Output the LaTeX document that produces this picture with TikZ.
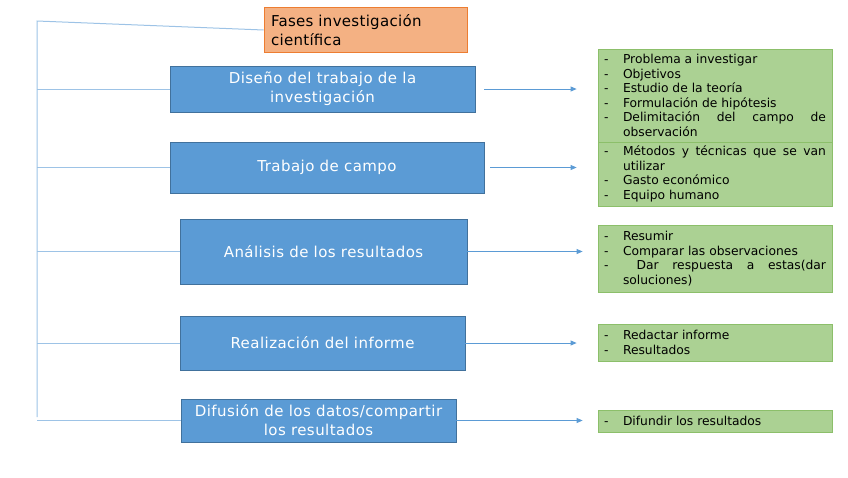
\documentclass[tikz,border=0pt]{standalone}
\usepackage{fontspec}
\setmainfont{DejaVu Sans}
\newfontfamily\faseletra[LetterSpace=3]{DejaVu Sans}
\newfontfamily\tituloletra[LetterSpace=2]{DejaVu Sans}
\usetikzlibrary{arrows.meta}
\definecolor{azul}{HTML}{5B9BD5}
\definecolor{azulborde}{HTML}{41719C}
\definecolor{azulclaro}{HTML}{9DC3E6}
\definecolor{salmon}{HTML}{F4B183}
\definecolor{naranja}{HTML}{ED7D31}
\definecolor{verde}{HTML}{ABD193}
\definecolor{verdeborde}{HTML}{8CBF6A}
% one dash item of a list
\newcommand{\guion}[1]{\hangindent=19pt\hangafter=1\noindent\makebox[19pt][l]{-}#1\par}

\begin{document}
\begin{tikzpicture}[
    x=1pt, y=-1pt,
    >={Triangle[length=6pt,width=5pt]},
    % Styles
    fase/.style={draw=azulborde, line width=0.8pt, fill=azul, text=white,
        font=\faseletra\fontsize{15}{19}\selectfont, align=center},
    titulo/.style={draw=naranja, line width=0.8pt, fill=salmon,
        font=\tituloletra\fontsize{15}{19}\selectfont, align=left, inner sep=7pt,
        text width=189pt, minimum height=44pt},
    lista/.style={draw=verdeborde, line width=0.8pt, fill=verde,
        font=\fontsize{12.3}{14.6}\selectfont, align=justify,
        text width=222pt, inner sep=6pt, inner ysep=0pt},
    rama/.style={azulclaro, line width=1pt},
    flecha/.style={->, azul, line width=0.8pt}
]
\useasboundingbox (0,0) rectangle (848,477);

% --- Title ---
\node[titulo] (fases) at (365.5, 30) {Fases investigación\\científica};

% --- Phases ---
\node[fase, minimum width=305pt, minimum height=46pt] (diseno) at (322.5, 89) {Diseño del trabajo de la\\investigación};
\node[fase, minimum width=314pt, minimum height=51pt] (campo) at (327, 167.5) {Trabajo de campo};
\node[fase, minimum width=287pt, minimum height=65pt] (analisis) at (323.5, 251.5) {Análisis de los resultados};
\node[fase, minimum width=285pt, minimum height=54pt] (informe) at (322.5, 343) {Realización del informe};
\node[fase, minimum width=275pt, minimum height=43pt] (difusion) at (318.5, 420.5) {Difusión de los datos/compartir\\los resultados};

% --- Lists ---
\node[lista, minimum height=93pt] (ldiseno) at (715, 95.5) {%
    \hyphenpenalty=10000
    \guion{Problema a investigar}
    \guion{Objetivos}
    \guion{Estudio de la teoría}
    \guion{Formulación de hipótesis}
    \guion{Delimitación del campo de observación}};
\node[lista, minimum height=64pt] (lcampo) at (715, 174) {%
    \hyphenpenalty=10000
    \guion{Métodos y técnicas que se van utilizar}
    \guion{Gasto económico}
    \guion{Equipo humano}};
\node[lista, minimum height=67pt] (lanalisis) at (715, 258.5) {%
    \hyphenpenalty=10000
    \guion{Resumir}
    \guion{Comparar las observaciones}
    \guion{\ Dar respuesta a estas(dar soluciones)}};
\node[lista, minimum height=37pt] (linforme) at (715, 342.5) {%
    \guion{Redactar informe}
    \guion{Resultados}};
\node[lista, minimum height=22pt] (ldifusion) at (715, 421) {%
    \guion{Difundir los resultados}};

% --- Left bracket ---
\coordinate (arriba) at (37, 21);
\coordinate (abajo) at (37, 417);
\draw[rama] (abajo) -- (arriba) -- (fases.west);
\foreach \f in {diseno, campo, analisis, informe, difusion}
    \draw[rama] (arriba |- \f.west) -- (\f.west);

% --- Phase -> list arrows ---
\draw[flecha, shorten <=9pt, shorten >=21pt] (diseno.east) -- (diseno.east -| ldiseno.west);
\draw[flecha, shorten <=6pt, shorten >=21pt] (campo.east) -- (campo.east -| lcampo.west);
\draw[flecha, shorten >=15pt] (analisis.east) -- (analisis.east -| lanalisis.west);
\draw[flecha, shorten >=21pt] (informe.east) -- (informe.east -| linforme.west);
\draw[flecha, shorten >=15pt] (difusion.east) -- (difusion.east -| ldifusion.west);

\end{tikzpicture}
\end{document}
